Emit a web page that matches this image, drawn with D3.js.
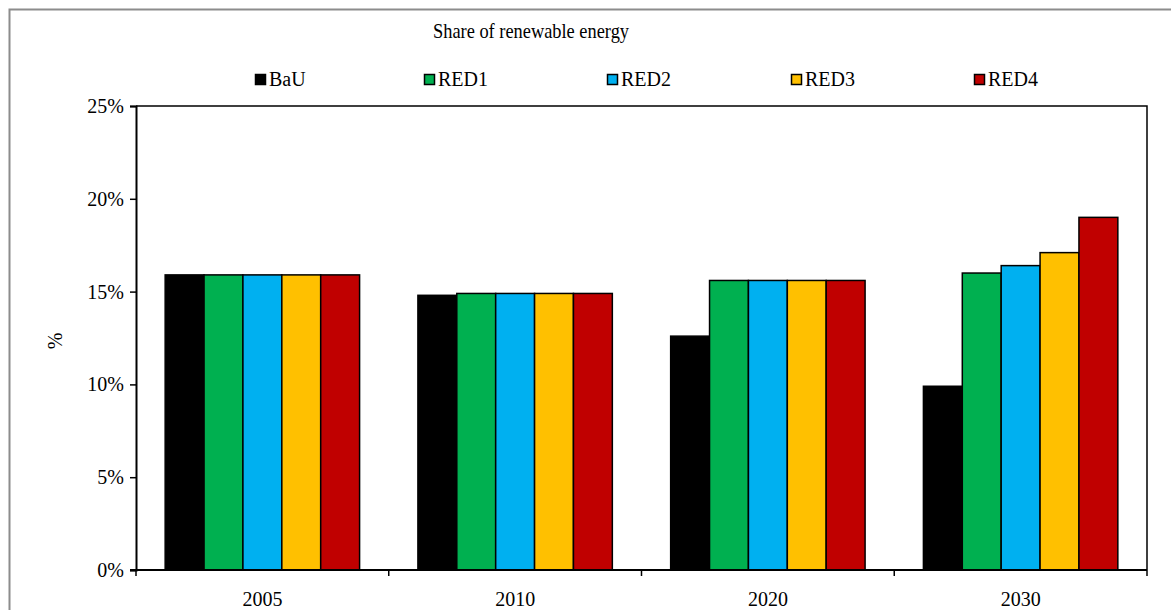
<!DOCTYPE html>
<html>
<head>
<meta charset="utf-8">
<script src="https://cdn.jsdelivr.net/npm/d3@7"></script>
<style>
  html, body { margin: 0; padding: 0; background: #fff; }
  svg { display: block; }
</style>
</head>
<body>
<svg id="chart" width="1171" height="610"></svg>
<script>
// Share of renewable energy by scenario (fraction of total)
const years = ["2005", "2010", "2020", "2030"];
const scenarios = ["BaU", "RED1", "RED2", "RED3", "RED4"];
const BaU  = [0.159, 0.148, 0.126, 0.099];
const RED1 = [0.159, 0.149, 0.156, 0.160];
const RED2 = [0.159, 0.149, 0.156, 0.164];
const RED3 = [0.159, 0.149, 0.156, 0.171];
const RED4 = [0.159, 0.149, 0.156, 0.190];
const yTicks = [0, 0.05, 0.10, 0.15, 0.20, 0.25];

const seriesValues = { BaU, RED1, RED2, RED3, RED4 };
const colors = { BaU: "#000000", RED1: "#00B050", RED2: "#00B0F0", RED3: "#FFC000", RED4: "#C00000" };
const FONT = "'Liberation Serif', 'Times New Roman', serif";

const svg = d3.select("#chart");
const plot = { left: 136, right: 1147, top: 106, bottom: 570 };

// outer chart frame
svg.append("rect")
  .attr("x", 9.5).attr("y", 9.5)
  .attr("width", 1400).attr("height", 1000)
  .attr("fill", "none").attr("stroke", "#8c8c8c").attr("stroke-width", 2);

// title
svg.append("text")
  .attr("x", 531).attr("y", 38)
  .attr("text-anchor", "middle")
  .attr("textLength", 196)
  .attr("lengthAdjust", "spacingAndGlyphs")
  .style("font-size", "21px")
  .text("Share of renewable energy");

const x0 = d3.scaleBand().domain(years).range([plot.left, plot.right]).padding(0);
const bw = x0.bandwidth();
const barW = bw / 6.5;               // gap width 150% of a bar
const x1 = d3.scaleBand().domain(scenarios)
  .range([0.75 * barW, bw - 0.75 * barW]).padding(0);
const y = d3.scaleLinear().domain([0, 0.25]).range([plot.bottom, plot.top]);

// plot area border (top and right)
svg.append("path")
  .attr("d", `M${plot.left},${plot.top}H${plot.right}V${plot.bottom}`)
  .attr("fill", "none").attr("stroke", "#000").attr("stroke-width", 1.5);

// bars
const rows = years.map((yr, i) => ({ year: yr, vals: scenarios.map(s => ({ s, v: seriesValues[s][i] })) }));
svg.append("g").selectAll("g").data(rows).join("g")
  .attr("transform", d => `translate(${x0(d.year)},0)`)
  .selectAll("rect").data(d => d.vals).join("rect")
  .attr("x", d => x1(d.s))
  .attr("y", d => y(d.v))
  .attr("width", x1.bandwidth())
  .attr("height", d => y(0) - y(d.v))
  .attr("fill", d => colors[d.s])
  .attr("stroke", "#000").attr("stroke-width", 1.5);

// y axis
const yAxis = svg.append("g")
  .attr("transform", `translate(${plot.left},0)`)
  .call(d3.axisLeft(y).tickValues(yTicks).tickFormat(d3.format(".0%")).tickSize(6).tickPadding(6));
yAxis.select(".domain").attr("stroke-width", 2);
yAxis.selectAll(".tick line").attr("stroke-width", 1.5);
yAxis.selectAll("text").style("font-size", "20px");

// x axis: ticks on category boundaries
const xAxis = svg.append("g")
  .attr("transform", `translate(0,${plot.bottom})`);
xAxis.append("line")
  .attr("x1", plot.left - 6).attr("x2", plot.right)
  .attr("stroke", "#000").attr("stroke-width", 2);
const bounds = years.map(d => x0(d)).concat([plot.right]);
xAxis.selectAll("line.tk").data(bounds).join("line")
  .attr("class", "tk")
  .attr("x1", d => d).attr("x2", d => d)
  .attr("y1", 0).attr("y2", 6)
  .attr("stroke", "#000").attr("stroke-width", 1.5);
xAxis.selectAll("text").data(years).join("text")
  .attr("x", d => x0(d) + bw / 2)
  .attr("y", 36)
  .attr("text-anchor", "middle")
  .style("font-size", "20px")
  .text(d => d);

// y axis title
svg.append("text")
  .attr("transform", "translate(62,341) rotate(-90)")
  .attr("text-anchor", "middle")
  .style("font-size", "20px")
  .text("%");

// legend
const legendX = [255, 424, 607, 791, 974];
const legend = svg.append("g").selectAll("g").data(scenarios).join("g")
  .attr("transform", (d, i) => `translate(${legendX[i]},74)`);
legend.append("rect")
  .attr("x", 0.5).attr("y", 0.5).attr("width", 10).attr("height", 10)
  .attr("fill", d => colors[d]).attr("stroke", "#000").attr("stroke-width", 1.5);
legend.append("text")
  .attr("x", 14).attr("y", 12)
  .style("font-size", "20px")
  .text(d => d);

// serif face for every label
svg.selectAll("text").style("font-family", FONT).attr("fill", "#000");
</script>
</body>
</html>
